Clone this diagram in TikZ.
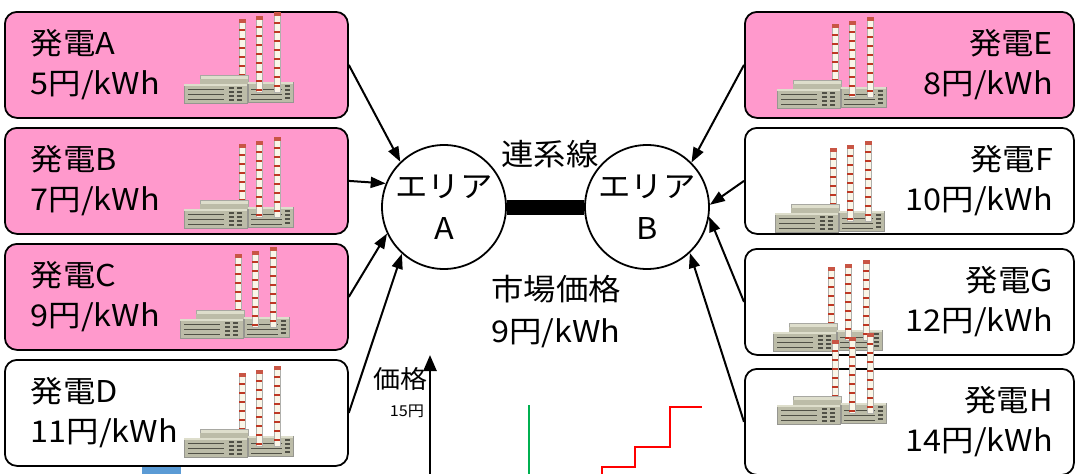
\documentclass[tikz,border=0pt]{standalone}
\usepackage{fontspec}
\setmainfont[FakeStretch=1.08]{Noto Sans CJK JP}
\usetikzlibrary{arrows.meta}
\definecolor{genpink}{RGB}{255,153,204}
\definecolor{plantgray}{RGB}{188,188,168}
\definecolor{plantlight}{RGB}{222,222,204}
\definecolor{plantdark}{RGB}{80,80,70}
\definecolor{stackred}{RGB}{190,55,35}
\definecolor{stackwhite}{RGB}{250,246,232}
\definecolor{bidblue}{RGB}{91,155,213}
\definecolor{offergreen}{RGB}{0,176,80}
\newcommand\plantstack[3]{%
  \fill[stackwhite, draw=plantdark!45, line width=0.5pt] (#1,#2) rectangle (#1+6,#3);
  \begin{scope}
    \clip (#1,#2) rectangle (#1+6,#3);
    \foreach \k in {1,...,10} \fill[stackred] (#1,#2+9*\k) rectangle (#1+6,#2+9*\k+1.6);
  \end{scope}
  \fill[stackred!85] (#1-0.5,#2-1) rectangle (#1+6.5,#2+3);
}

\begin{document}
\begin{tikzpicture}[x=1pt, y=-1pt, line width=1.8pt,
    gen/.style={draw, rounded corners=12pt, minimum height=106pt, anchor=north west,
                font=\fontsize{30}{40}\selectfont},
    genL/.style={gen, align=left, minimum width=343pt, text width=291pt, inner xsep=26pt},
    genR/.style={gen, align=right, minimum width=329pt, text width=287pt, inner xsep=21pt},
    area/.style={circle, draw, fill=white, minimum size=124pt, inner sep=0pt, align=center,
                 font=\fontsize{30}{42}\selectfont},
    feed/.style={line width=2pt, -{Triangle[length=15pt,width=11pt]}},
    plant/.pic={
      \plantstack{55}{-83}{-28}
      \fill[plantlight, draw=plantdark!50, line width=0.4pt] (16,-28) rectangle (64,-18);  %% back block
      \fill[plantgray] (16,-24) rectangle (64,-18);
      \fill[plantgray, draw=plantdark!60, line width=0.4pt] (0,-19) rectangle (63,0);
      \fill[plantlight] (0,-19) rectangle (63,-17);
      \fill[plantgray, draw=plantdark!60, line width=0.4pt] (64,-21) rectangle (109,-1);
      \fill[plantlight] (64,-21) rectangle (109,-19);
      \foreach \wy in {-14,-9,-4} {
        \draw[plantdark, line width=0.9pt] (4,\wy) -- (40,\wy);
        \draw[plantdark, line width=0.9pt] (67,\wy) -- (98,\wy);
      }
      \foreach \wx in {45,53} \foreach \wy in {-16,-12,-8,-4}
        \fill[plantdark] (\wx,\wy) rectangle ++(5,2);
      \foreach \wy in {-18,-14,-10,-6} \fill[plantdark] (101,\wy) rectangle ++(5,2);
      \plantstack{72}{-86}{-11}
      \plantstack{90}{-90}{-11}
    }
    ]
    \useasboundingbox (0,0) rectangle (1077,474);
    \fill[bidblue] (142,465) rectangle (181,474);

    %% generators, area A side
    \node[genL, fill=genpink] (genA) at (4,11)  {発電A\\5円/kWh};
    \node[genL, fill=genpink] (genB) at (4,127) {発電B\\7円/kWh};
    \node[genL, fill=genpink] (genC) at (4,243) {発電C\\9円/kWh};
    \node[genL, fill=white]   (genD) at (4,359) {発電D\\11円/kWh};
    %% generators, area B side
    \node[genR, fill=genpink] (genE) at (744,11)  {発電E\\8円/kWh};
    \node[genR, fill=white]   (genF) at (744,127) {発電F\\10円/kWh};
    \node[genR, fill=white]   (genG) at (744,248) {発電G\\12円/kWh};
    \node[genR, fill=white]   (genH) at (744,368) {発電H\\14円/kWh};

    \pic at (184,103) {plant};
    \pic at (184,228) {plant};
    \pic at (180,338) {plant};
    \pic at (184,457) {plant};
    \pic at (777,108) {plant};
    \pic at (775,232) {plant};
    \pic at (773,351) {plant};
    \pic at (777,424) {plant};

    %% areas and tie line
    \node[area] (areaA) at (444,207) {エリア\\A};
    \node[area] (areaB) at (647,207) {エリア\\B};
    \draw[line width=15pt] (areaA) -- (areaB);
    \node[font=\fontsize{30}{42}\selectfont] (tie) at (550,154) {連系線};
    \node[font=\fontsize{30}{42}\selectfont, align=center] (price) at (556,312) {市場価格\\9円/kWh};

    \draw[feed] (genA.east) -- (areaA.134);
    \draw[feed] (genB.east) -- (areaA.158);
    \draw[feed] (genC.east) -- (areaA.205);
    \draw[feed] (genD.east) -- (areaA.228);
    \draw[feed] (genE.west) -- (areaB.45);
    \draw[feed] (genF.west) -- (areaB.2);
    \draw[feed] (genG.west) -- (areaB.351);
    \draw[feed] (genH.west) -- (areaB.313);

    %% merit order chart
    \coordinate (axis0) at (430,474);
    \coordinate (axis1) at (430,355);
    \draw[line width=2.5pt, -{Triangle[length=16pt,width=13pt]}] (axis0) -- (axis1);
    \node[font=\fontsize{25}{30}\selectfont] (ylabel) at (400,379) {価格};
    \node[font=\fontsize{15}{17}\selectfont] (tick15) at (407,411) {15円};
    \draw[offergreen, line width=2pt] (529,405) -- (529,474);
    \draw[red, line width=2pt] (602,474) |- (635,467) |- (670,447) |- (702,407);
    \end{tikzpicture}
\end{document}
